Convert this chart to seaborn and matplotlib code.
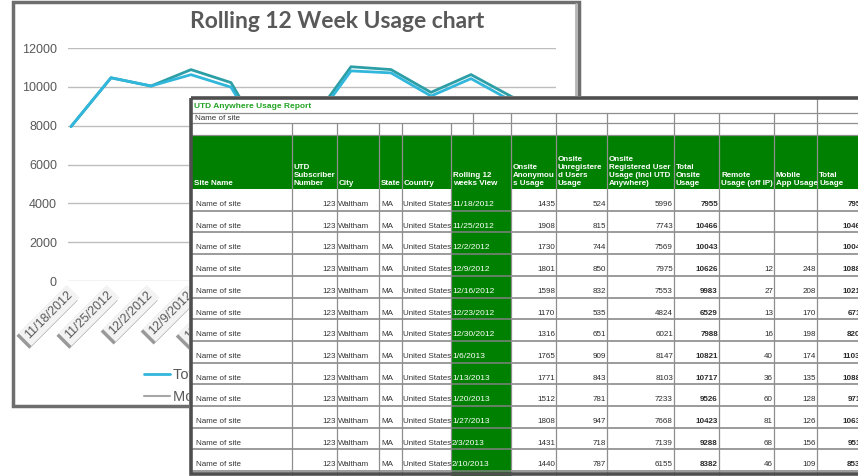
import matplotlib
matplotlib.use('Agg')
import numpy as np
import pandas as pd
import seaborn as sns
import matplotlib.pyplot as plt
from matplotlib.patches import Rectangle
from matplotlib.lines import Line2D
import matplotlib.patheffects as pe

# --- data ---
weeks = ['11/18/2012', '11/25/2012', '12/2/2012', '12/9/2012', '12/16/2012', '12/23/2012',
         '12/30/2012', '1/6/2013', '1/13/2013', '1/20/2013', '1/27/2013', '2/3/2013', '2/10/2013']
anon = [1435, 1908, 1730, 1801, 1598, 1170, 1316, 1765, 1771, 1512, 1808, 1431, 1440]
unregistered = [524, 815, 744, 850, 832, 535, 651, 909, 843, 781, 947, 718, 787]
registered = [5996, 7743, 7569, 7975, 7553, 4824, 6021, 8147, 8103, 7233, 7668, 7139, 6155]
total_onsite = [7955, 10466, 10043, 10626, 9983, 6529, 7988, 10821, 10717, 9526, 10423, 9288, 8382]
remote = [None, None, None, 12, 27, 13, 16, 40, 36, 60, 81, 68, 46]
mobile = [None, None, None, 248, 208, 170, 198, 174, 135, 128, 126, 156, 109]
total_usage = [7955, 10466, 10043, 10886, 10218, 6712, 8202, 11035, 10888, 9714, 10630, 9512, 8537]

site = 'Name of site'
subscriber = '123'
city = 'Waltham'
state = 'MA'
country = 'United States'

headers = ['Site Name', 'UTD\nSubscriber\nNumber', 'City', 'State', 'Country', 'Rolling 12\nweeks View',
           'Onsite\nAnonymou\ns Usage', 'Onsite\nUnregistere\nd Users\nUsage',
           'Onsite\nRegistered User\nUsage (Incl UTD\nAnywhere)', 'Total\nOnsite\nUsage',
           'Remote\nUsage (off IP)', 'Mobile\nApp Usage', 'Total\nUsage']

cyan = '#31b6dc'
teal = '#2c9ea6'
grey_line = '#a6a6a6'
green = '#008000'
txt_grey = '#595959'

df = pd.DataFrame({'week': weeks, 'Total Onsite Usage': total_onsite,
                   'Total Usage': total_usage, 'Mobile App Usage': mobile})
df['pos'] = np.arange(len(weeks))
long = df.melt(id_vars=['week', 'pos'], var_name='series', value_name='usage').dropna()
long['usage'] = long['usage'].astype(float)

sns.set_theme(style='white')
plt.rcParams['font.family'] = ['Liberation Sans', 'DejaVu Sans']

W, H = 858, 476


def box(x0, y0, x1, y1):
    return [x0 / W, 1 - y1 / H, (x1 - x0) / W, (y1 - y0) / H]


fig = plt.figure(figsize=(8.58, 4.76), dpi=100)
fig.patch.set_facecolor('white')

# background: chart frame and title
bg = fig.add_axes([0, 0, 1, 1])
bg.set_xlim(0, W)
bg.set_ylim(H, 0)
bg.axis('off')
bg.add_patch(Rectangle((13, 2), 566, 404, fill=False, ec='#6e6e6e', lw=2.5))
bg.plot([576, 576], [4, 97], color='#b5b5b5', lw=2)
bg.text(337, 22, 'Rolling 12 Week Usage chart', ha='center', va='center', fontsize=16.5,
        color=txt_grey, family='Lato', weight='bold')

# line chart
ax = fig.add_axes(box(68, 48, 556, 281))
ax.set_zorder(1)
ax.patch.set_alpha(0)
sns.lineplot(data=long, x='pos', y='usage', hue='series',
             palette={'Total Usage': teal, 'Total Onsite Usage': cyan, 'Mobile App Usage': grey_line},
             hue_order=['Mobile App Usage', 'Total Usage', 'Total Onsite Usage'],
             linewidth=2, legend=False, errorbar=None, ax=ax)
ax.set_xlim(-0.075, 12.125)
ax.set_ylim(0, 12000)
ax.set_yticks(range(0, 12001, 2000))
ax.yaxis.grid(True, color='#bdbdbd', lw=1)
ax.set_axisbelow(True)
for s in ax.spines.values():
    s.set_visible(False)
ax.set_xlabel('')
ax.set_ylabel('')
ax.tick_params(axis='y', length=0, pad=8, labelsize=9, labelcolor=txt_grey)
ax.set_xticks(df['pos'])
ax.set_xticklabels(weeks, rotation=45, ha='right', va='center', rotation_mode='anchor',
                   fontsize=9, color=txt_grey)
ax.tick_params(axis='x', length=0, pad=9)
for lab in ax.get_xticklabels():
    lab.set_bbox(dict(boxstyle='square,pad=0.25', fc='#f3f3f3', ec='none'))
    lab.get_bbox_patch().set_path_effects([pe.withSimplePatchShadow(offset=(-1.5, -2), shadow_rgbFace='#808080', alpha=0.8)])

ax.legend(handles=[Line2D([], [], color=cyan, lw=2), Line2D([], [], color=grey_line, lw=1.5)],
          labels=['Total Onsite Usage', 'Mobile App Usage'], loc='upper left',
          bbox_to_anchor=(131 / W, 1 - 355 / H), bbox_transform=fig.transFigure,
          frameon=False, fontsize=10.5, labelcolor=txt_grey, handlelength=1.8,
          handletextpad=0.15, labelspacing=0.55)

# spreadsheet overlay
tab = fig.add_axes(box(189, 96, 858, 476))
tab.set_zorder(2)
tab.set_xlim(189, 858)
tab.set_ylim(476, 96)
tab.axis('off')

edges = [192, 292, 337, 379, 402, 451, 511, 556, 607, 674, 719, 774, 817, 866]
head_top, head_bot = 135, 189
row_h = 21.7
n = len(weeks)
bottom = head_bot + row_h * n

tab.add_patch(Rectangle((189, 96), 680, 380, fc='white', ec='none', zorder=0))
tab.add_patch(Rectangle((192, head_top), 680, head_bot - head_top, fc=green, ec='none', zorder=1))
tab.add_patch(Rectangle((edges[5], head_bot), edges[6] - edges[5], bottom - head_bot + 5,
                        fc=green, ec='none', zorder=3))

line_kw = dict(color='#8e8e8e', lw=0.9, zorder=4)
for y in [113, 123, head_top]:
    tab.plot([192, 866], [y, y], **line_kw)
for i in range(1, n + 1):
    y = head_bot + row_h * i
    tab.plot([192, 866], [y, y], color='#808080', lw=1.1, zorder=4)
for x in edges[1:]:
    tab.plot([x, x], [123, bottom + 4], **line_kw)
for x in [473] + edges[6:]:
    tab.plot([x, x], [113, 123], **line_kw)
tab.plot([473, 473], [123, head_top], **line_kw)
tab.plot([817, 817], [97, 113], **line_kw)
tab.add_patch(Rectangle((191, 97.5), 700, 376.5, fill=False, ec='#4f4f4f', lw=2.6, zorder=6))

tab.text(194, 106, 'UTD Anywhere Usage Report', color='#22a322', fontsize=6, weight='bold',
         va='center', ha='left', zorder=5)
tab.text(195, 118.5, site, color='#333333', fontsize=5.8, va='center', ha='left', zorder=5)

for j, h in enumerate(headers):
    tab.text(edges[j] + 2, head_bot - 2, h, color='white', fontsize=5.8, weight='bold',
             va='bottom', ha='left', linespacing=1.2, zorder=5, clip_on=True)


def num(v):
    return '' if v is None else str(v)


for i in range(n):
    yc = head_bot + row_h * i + 15.5
    kw = dict(va='center', fontsize=5.8, color='#333333', zorder=2, clip_on=True)
    tab.text(edges[0] + 4, yc, site, ha='left', **kw)
    tab.text(edges[2] - 1, yc, subscriber, ha='right', **kw)
    tab.text(edges[2] + 1, yc, city, ha='left', **kw)
    tab.text(edges[3] + 2, yc, state, ha='left', **kw)
    tab.text(edges[4] + 1, yc, country, ha='left', **kw)
    tab.text(edges[5] + 1, yc, weeks[i], ha='left', va='center', fontsize=6, color='white',
             zorder=5)
    cols = [anon[i], unregistered[i], registered[i], total_onsite[i], remote[i], mobile[i], total_usage[i]]
    for k, v in enumerate(cols):
        bold = k in (3, 6)
        tab.text(edges[7 + k] - 1, yc, num(v), ha='right', va='center', fontsize=5.8,
                 color='#2b2b2b', weight='bold' if bold else 'normal', zorder=5, clip_on=True)

fig.savefig('out.png', dpi=100)
